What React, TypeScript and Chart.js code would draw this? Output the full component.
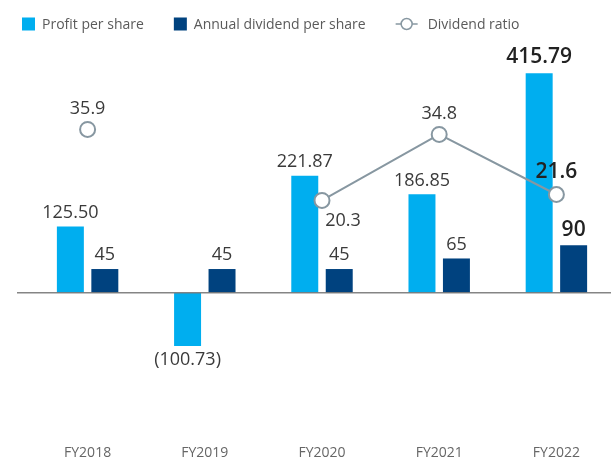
import React, { useEffect, useRef } from "react";
import { Chart, registerables } from "chart.js";

Chart.register(...registerables);

// ---- Data ----
const categories = ["FY2018", "FY2019", "FY2020", "FY2021", "FY2022"];
const profitPerShare = [125.5, -100.73, 221.87, 186.85, 415.79];
const annualDividendPerShare = [45, 45, 45, 65, 90];
const dividendRatio: (number | null)[] = [35.9, null, 20.3, 34.8, 21.6];
const seriesNames = ["Profit per share", "Annual dividend per share", "Dividend ratio"];

// label placement for the ratio line (style, not data)
const ratioLabelPlacement = ["above", "above", "belowRight", "above", "above"];
const highlightIndex = 4;

const FONT = "'Open Sans', 'Noto Sans', sans-serif";
const CYAN = "#00aeef";
const NAVY = "#00427f";
const LINE_GREY = "#8797a1";

function formatProfit(v: number) {
  return v < 0 ? `(${Math.abs(v).toFixed(2)})` : v.toFixed(2);
}

const zeroLinePlugin = {
  id: "zeroLine",
  afterDatasetsDraw(chart: any) {
    const { ctx, chartArea, scales } = chart;
    const y = scales.y.getPixelForValue(0);
    ctx.save();
    ctx.strokeStyle = "rgba(120,120,120,0.9)";
    ctx.lineWidth = 1.5;
    ctx.beginPath();
    ctx.moveTo(chartArea.left - 12, y);
    ctx.lineTo(chart.width, y);
    ctx.stroke();
    ctx.restore();
  },
};

const dataLabelPlugin = {
  id: "dataLabels",
  afterDatasetsDraw(chart: any) {
    const ctx = chart.ctx;
    ctx.save();
    ctx.textAlign = "center";
    ctx.textBaseline = "middle";
    chart.data.datasets.forEach((ds: any, di: number) => {
      const meta = chart.getDatasetMeta(di);
      meta.data.forEach((el: any, i: number) => {
        const v = ds.data[i];
        if (v == null) return;
        const hi = i === highlightIndex;
        ctx.font = hi ? `600 21px ${FONT}` : `18px ${FONT}`;
        ctx.fillStyle = hi ? "#222222" : "#3a3a3a";
        let x = el.x;
        let y = el.y;
        let text = "";
        if (ds.type === "line") {
          text = v.toFixed(1);
          if (ratioLabelPlacement[i] === "belowRight") {
            x += 21;
            y += 20;
          } else {
            y -= hi ? 22 : 21;
          }
        } else if (ds.label === seriesNames[0]) {
          text = formatProfit(v);
          y = v < 0 ? y + 13.5 : y - (hi ? 16 : 13.5);
        } else {
          text = String(v);
          y -= hi ? 15 : 14;
        }
        ctx.fillText(text, x, y);
      });
    });
    ctx.restore();
  },
};

const legendPlugin = {
  id: "customLegend",
  afterDraw(chart: any) {
    const ctx = chart.ctx;
    ctx.save();
    ctx.font = `14px ${FONT}`;
    ctx.textBaseline = "middle";
    ctx.textAlign = "left";
    let x = 22;
    const cy = 24;
    chart.data.datasets.forEach((ds: any) => {
      if (ds.type === "line") {
        ctx.strokeStyle = ds.borderColor;
        ctx.lineWidth = 1.5;
        ctx.beginPath();
        ctx.moveTo(x, cy);
        ctx.lineTo(x + 22, cy);
        ctx.stroke();
        ctx.beginPath();
        ctx.arc(x + 11, cy, 5.5, 0, Math.PI * 2);
        ctx.fillStyle = "#ffffff";
        ctx.fill();
        ctx.stroke();
        x += 32;
      } else {
        ctx.fillStyle = ds.backgroundColor;
        ctx.fillRect(x, cy - 6.5, 13, 13);
        x += 20;
      }
      ctx.fillStyle = "#5a5a5a";
      ctx.fillText(ds.label, x, cy + 1);
      x += ctx.measureText(ds.label).width + 30;
    });
    ctx.restore();
  },
};

export default function App() {
  const canvasRef = useRef<HTMLCanvasElement | null>(null);

  useEffect(() => {
    if (!canvasRef.current) return;
    const chart = new Chart(canvasRef.current, {
      type: "bar",
      data: {
        labels: categories,
        datasets: [
          {
            type: "bar",
            label: seriesNames[0],
            data: profitPerShare,
            yAxisID: "y",
            backgroundColor: CYAN,
            categoryPercentage: 0.588,
            barPercentage: 0.783,
            order: 1,
          },
          {
            type: "bar",
            label: seriesNames[1],
            data: annualDividendPerShare,
            yAxisID: "y",
            backgroundColor: NAVY,
            categoryPercentage: 0.588,
            barPercentage: 0.783,
            order: 1,
          },
          {
            type: "line",
            label: seriesNames[2],
            data: dividendRatio,
            yAxisID: "y2",
            borderColor: LINE_GREY,
            borderWidth: 2,
            pointRadius: 7.5,
            pointBorderWidth: 2,
            pointBackgroundColor: "#ffffff",
            pointBorderColor: LINE_GREY,
            spanGaps: false,
            tension: 0,
            order: 0,
          } as any,
        ],
      },
      options: {
        responsive: false,
        animation: false,
        layout: { padding: { left: 29, right: 25, top: 50, bottom: 0 } },
        plugins: {
          legend: { display: false },
          tooltip: { enabled: false },
        },
        scales: {
          x: {
            grid: { display: false, drawTicks: false },
            border: { display: false },
            ticks: { color: "#666666", font: { family: FONT, size: 14 }, padding: 15 },
            afterFit(scale: any) {
              scale.height = 32;
            },
          },
          y: { display: false, min: -260, max: 460 },
          y2: { display: false, position: "right", min: -30.15, max: 53.35 },
        },
      },
      plugins: [zeroLinePlugin, dataLabelPlugin, legendPlugin],
    });
    return () => chart.destroy();
  }, []);

  return (
    <div
      style={{
        position: "absolute",
        left: 0,
        top: 0,
        width: 611,
        height: 462,
        overflow: "hidden",
        background: "#ffffff",
      }}
    >
      <canvas ref={canvasRef} width={640} height={462} style={{ display: "block" }} />
    </div>
  );
}
